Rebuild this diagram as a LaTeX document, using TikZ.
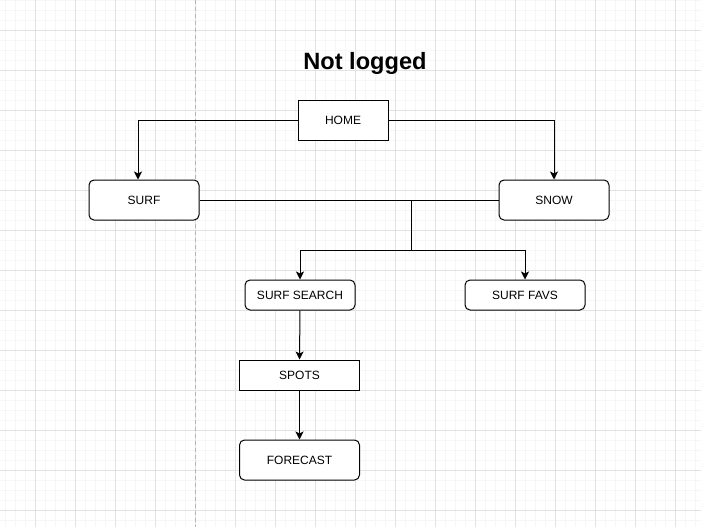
\documentclass[tikz,border=0pt]{standalone}
\usepackage{fontspec}
\setmainfont{Liberation Sans}
\usepackage{tikz}
\usetikzlibrary{arrows.meta}
\usetikzlibrary{calc}
\usetikzlibrary{positioning}

\definecolor{gridmajor}{RGB}{226,226,226}
\definecolor{gridminor}{RGB}{246,246,246}
\definecolor{pageline}{RGB}{180,180,180}

\begin{document}
\begin{tikzpicture}[x=1pt, y=-1pt,
	box_node/.style={draw, line width=1pt, fill=white, font=\fontsize{12}{14}\selectfont, minimum width=110pt, minimum height=40pt, inner sep=0pt},
	round_node/.style={box_node, rounded corners=5pt},
	link/.style={line width=1pt, -{Stealth[length=8pt,width=8pt,inset=2pt]}},
	plain_link/.style={line width=1pt}]

	\useasboundingbox (0,0) rectangle (701,527);
	\fill[white] (0,0) rectangle (701,527);

	% background grid
	\foreach \x in {5,15,...,695}
		\draw[gridminor, line width=0.8pt] (\x,0) -- (\x,527);
	\foreach \y in {0,10,...,520}
		\draw[gridminor, line width=0.8pt] (0,\y) -- (701,\y);
	\foreach \x in {35,75,...,675}
		\draw[gridmajor, line width=0.8pt] (\x,0) -- (\x,527);
	\foreach \y in {30,70,...,510}
		\draw[gridmajor, line width=0.8pt] (0,\y) -- (701,\y);
	\draw[pageline, line width=0.8pt, dash pattern=on 4pt off 3pt] (195.5,0) -- (195.5,527);

	\node[font=\fontsize{23.6}{26}\selectfont\bfseries] (title) at (365,63) {Not logged};

	\node[box_node, minimum width=90pt] (home) at (343,120) {HOME};
	\node[round_node] (surf) at (144,200) {SURF};
	\node[round_node] (snow) at (554,200) {SNOW};
	\node[round_node, minimum height=30pt] (search) at (300,295) {SURF SEARCH};
	\node[round_node, minimum width=120pt, minimum height=30pt] (favs) at (525,295) {SURF FAVS};
	\node[box_node, minimum width=120pt, minimum height=30pt] (spots) at (299.5,375) {SPOTS};
	\node[round_node, minimum width=120pt] (forecast) at (299.5,460) {FORECAST};

	\coordinate (split) at (411,200);
	\coordinate (fork) at (411,250);

	\draw[link] (home.west) -| ($(surf.north)+(-6,0)$);
	\draw[link] (home.east) -| (snow.north);
	\draw[plain_link] (surf.east) -- (snow.west);
	\draw[plain_link] (split) -- (fork);
	\draw[link] (fork) -| (search.north);
	\draw[link] (fork) -| (favs.north);
	\draw[link] (search.south) -- (spots.north);
	\draw[link] (spots.south) -- (forecast.north);
\end{tikzpicture}
\end{document}
